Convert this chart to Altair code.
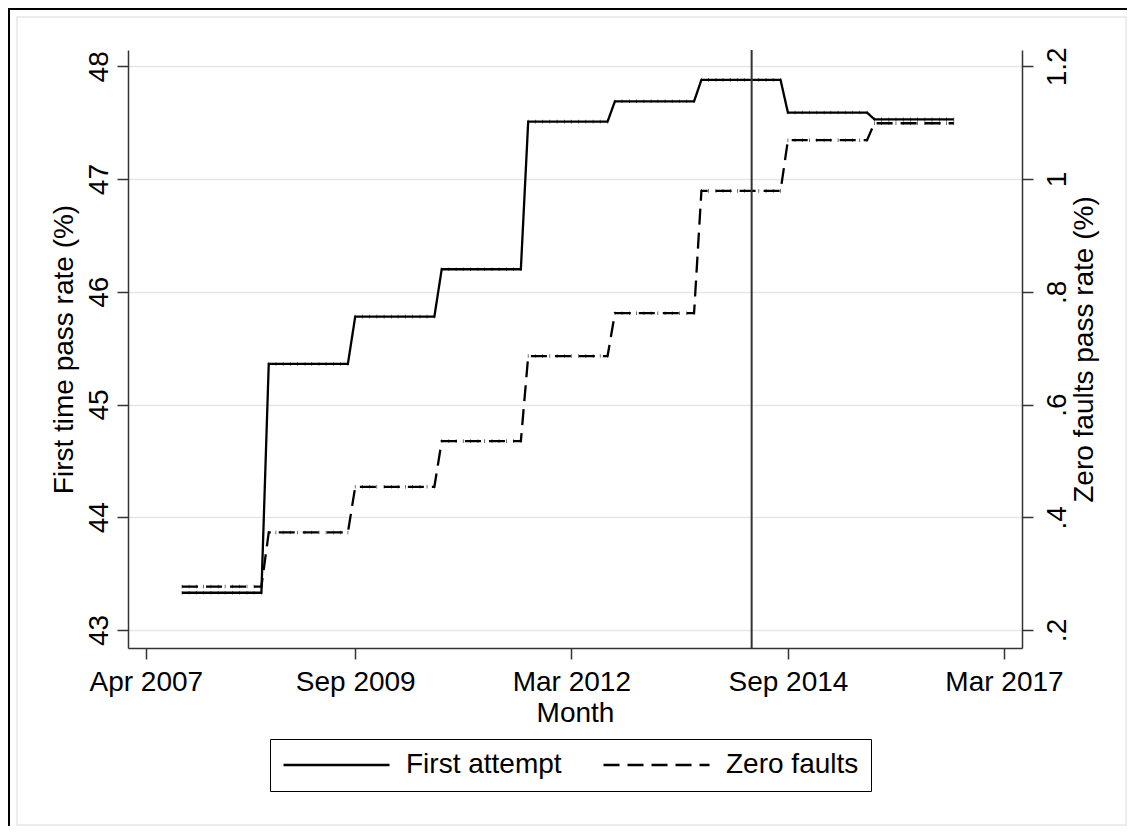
import altair as alt
import pandas as pd

# ---- values ----
year_starts = ["2007-09-01", "2008-09-01", "2009-09-01", "2010-09-01", "2011-09-01",
               "2012-09-01", "2013-09-01", "2014-09-01", "2015-09-01"]
first_attempt = [43.33, 45.36, 45.78, 46.20, 47.51, 47.69, 47.88, 47.59, 47.53]
zero_faults = [0.277, 0.373, 0.454, 0.535, 0.686, 0.762, 0.979, 1.069, 1.099]
series_names = ["First attempt", "Zero faults"]
x_tick_dates = ["2007-04-01", "2009-09-01", "2012-03-01", "2014-09-01", "2017-03-01"]
x_domain = ["2007-01-16", "2017-05-16"]
left_ticks = [43, 44, 45, 46, 47, 48]
left_domain = [42.84, 48.145]
right_ticks = [0.2, 0.4, 0.6, 0.8, 1.0, 1.2]
right_domain = [0.168, 1.229]
vline_date = ["2014-04-01"]

# monthly table: each year's value holds from September to the following August
rows = []
for i, start in enumerate(year_starts):
    s = pd.Timestamp(start)
    for m in range(12):
        d = (s + pd.DateOffset(months=m)).strftime("%Y-%m-%d")
        rows.append({"date": d, "series": series_names[0], "value": first_attempt[i]})
        rows.append({"date": d, "series": series_names[1], "value": zero_faults[i]})
df = pd.DataFrame(rows)


def dt(s):
    t = pd.Timestamp(s)
    return alt.DateTime(year=t.year, month=t.month, date=t.day, utc=True)


FONT = "Liberation Sans"
FS = 28
AX = "#333333"

x_scale = alt.Scale(type="utc", domain=[dt(v) for v in x_domain])
x_axis = alt.Axis(values=[dt(v) for v in x_tick_dates], format="%b %Y",
                  labelFontSize=FS, labelFlush=False, labelOverlap=False,
                  labelPadding=9, tickSize=11, tickWidth=1.5, tickColor=AX,
                  domainColor=AX, domainWidth=1.5, grid=False,
                  title="Month", titleFontSize=FS, titleFontWeight="normal",
                  titleX=447, titleY=73, titleBaseline="alphabetic", titleAlign="center")
X = alt.X("date:T", scale=x_scale, axis=x_axis)

legend = alt.Legend(orient="none", legendX=142, legendY=689, direction="horizontal",
                    title=None, symbolType="stroke", symbolSize=11236, clipHeight=28,
                    symbolStrokeWidth=2.3, symbolStrokeColor="black",
                    labelFontSize=FS, labelFont=FONT, labelColor="black", labelLimit=0,
                    labelOffset=15, columnPadding=40, padding=12,
                    strokeColor="black", fillColor="white")
dash = alt.StrokeDash("series:N",
                      scale=alt.Scale(domain=series_names, range=[[1, 0], [16, 8]]),
                      legend=legend)

left_axis = alt.Axis(values=left_ticks, orient="left", format="d",
                     labelAngle=270, labelAlign="center", labelBaseline="alphabetic",
                     labelPadding=10, labelFontSize=FS, labelOverlap=False,
                     tickSize=11, tickWidth=1.5, tickColor=AX, domainColor=AX, domainWidth=1.5,
                     grid=True, gridColor="#e6e6e6", gridWidth=1.7,
                     title="First time pass rate (%)", titleFontSize=FS, titleFontWeight="normal",
                     titleAngle=270, titleX=-56, titleY=299, titleBaseline="alphabetic",
                     titleAlign="center")
right_axis = alt.Axis(values=right_ticks, orient="right",
                      labelExpr="datum.value < 1 ? replace(format(datum.value, '.1f'), '0.', '.') : format(datum.value, '.2~f')",
                      labelAngle=270, labelAlign="center", labelBaseline="top",
                      labelPadding=10, labelFontSize=FS, labelOverlap=False,
                      tickSize=11, tickWidth=1.5, tickColor=AX, domainColor=AX, domainWidth=1.5,
                      grid=False,
                      title="Zero faults pass rate (%)", titleFontSize=FS, titleFontWeight="normal",
                      titleAngle=270, titleX=70, titleY=299, titleBaseline="alphabetic",
                      titleAlign="center")

left_scale = alt.Scale(domain=left_domain, nice=False, zero=False)
right_scale = alt.Scale(domain=right_domain, nice=False, zero=False)
YL = alt.Y("value:Q", scale=left_scale, axis=left_axis)
YR = alt.Y("value:Q", scale=right_scale, axis=right_axis)

base = alt.Chart(df)

line1 = base.transform_filter(alt.datum.series == series_names[0]).mark_line(
    color="black", strokeWidth=2.3).encode(x=X, y=YL, strokeDash=dash)
tick1 = base.transform_filter(alt.datum.series == series_names[0]).mark_tick(
    color="black", orient="vertical", size=3.6, thickness=0.8).encode(x=X, y=YL)
left_layer = alt.layer(line1, tick1)

line2 = base.transform_filter(alt.datum.series == series_names[1]).mark_line(
    color="black", strokeWidth=2.3).encode(x=X, y=YR, strokeDash=dash)
tick2 = base.transform_filter(alt.datum.series == series_names[1]).mark_tick(
    color="black", orient="vertical", size=3.6, thickness=0.8, opacity=0.7).encode(x=X, y=YR)
right_layer = alt.layer(line2, tick2)

vrule = alt.Chart(pd.DataFrame({"date": vline_date})).mark_rule(
    color=AX, strokeWidth=2).encode(x=X)

one = alt.Data(values=[{"k": 1}])
frame_gray = alt.Chart(one).mark_rect(filled=False, stroke="#e6e6e6", strokeWidth=1.5).encode(
    x=alt.value(-111), x2=alt.value(998), y=alt.value(-33), y2=alt.value(775))
frame_left = alt.Chart(one).mark_rule(color="black", strokeWidth=2).encode(
    x=alt.value(-119), y=alt.value(-42), y2=alt.value(776))
frame_top = alt.Chart(one).mark_rule(color="black", strokeWidth=2).encode(
    x=alt.value(-120), x2=alt.value(999), y=alt.value(-41))

chart = alt.layer(left_layer, right_layer, vrule, frame_gray, frame_left, frame_top).resolve_scale(
    y="independent"
).properties(
    width=894, height=598,
    padding={"left": 120, "top": 42, "right": 105, "bottom": 178},
    autosize=alt.AutoSizeParams(type="none"),
    background="white",
).configure(font=FONT).configure_view(stroke=None).configure_axis(
    labelColor="black", titleColor="black", labelFont=FONT, titleFont=FONT
)

chart.save("out.html", embed_options={"renderer": "svg", "actions": False})
